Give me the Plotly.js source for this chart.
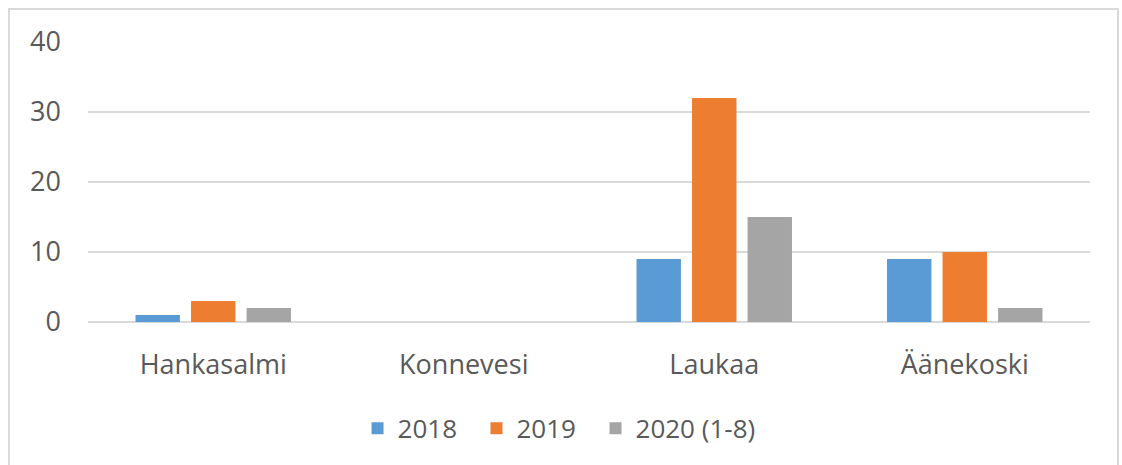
<!DOCTYPE html>
<html>
<head>
<meta charset="utf-8">
<script src="https://cdn.plot.ly/plotly-3.0.1.min.js"></script>
<style>
html,body{margin:0;padding:0;background:#fff;}
#frame{position:absolute;left:8px;top:8px;width:1111px;height:470px;border:2px solid #d9d9d9;box-sizing:border-box;}
#chart{position:absolute;left:0;top:0;width:1122px;height:465px;}
</style>
</head>
<body>
<div id="frame"></div>
<div id="chart"></div>
<script>
const categories = ["Hankasalmi", "Konnevesi", "Laukaa", "Äänekoski"];
const seriesNames = ["2018", "2019", "2020 (1-8)"];
const values2018 = [1, 0, 9, 9];
const values2019 = [3, 0, 32, 10];
const values2020 = [2, 0, 15, 2];
const colors = ["#5b9bd5", "#ed7d31", "#a5a5a5"];
const yTicks = [0, 10, 20, 30, 40];

const allValues = [values2018, values2019, values2020];
const legendIds = ["legend", "legend2", "legend3"];
const legendX = [0.269, 0.3877, 0.5065];

const data = allValues.map((v, i) => ({
  type: "bar",
  name: seriesNames[i],
  x: categories,
  y: v,
  marker: {color: colors[i]},
  legend: legendIds[i]
}));

const layout = {
  width: 1122, height: 465,
  margin: {l: 88, r: 32, t: 42, b: 143},
  paper_bgcolor: "rgba(0,0,0,0)",
  plot_bgcolor: "rgba(0,0,0,0)",
  font: {family: "Open Sans, Liberation Sans, sans-serif", size: 26, color: "#595959"},
  barmode: "group",
  bargap: 0.335,
  bargroupgap: 0.2,
  showlegend: true,
  xaxis: {showgrid: false, showline: false, zeroline: false, ticks: "",
          ticklabelstandoff: 24, tickfont: {size: 27, color: "#595959"}},
  yaxis: {range: [0, 40], tickvals: yTicks, showgrid: true, gridcolor: "#d9d9d9", gridwidth: 2,
          zeroline: true, zerolinecolor: "#d9d9d9", zerolinewidth: 2, showline: false, ticks: "",
          ticklabelstandoff: 26, tickfont: {size: 27, color: "#595959"}, fixedrange: true}
};
legendIds.forEach((id, i) => {
  layout[id] = {orientation: "h", x: legendX[i], xanchor: "left", y: -0.38, yanchor: "middle",
                font: {size: 26, color: "#595959"}, itemwidth: 30, bgcolor: "rgba(0,0,0,0)"};
});

Plotly.newPlot("chart", data, layout, {displayModeBar: false, staticPlot: true});
</script>
</body>
</html>
